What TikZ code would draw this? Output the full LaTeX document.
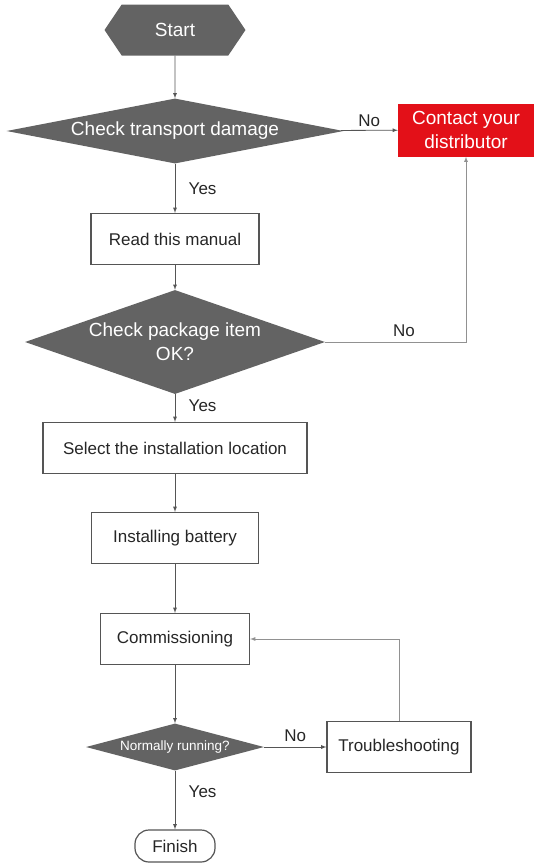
\documentclass[tikz,border=0pt]{standalone}
\usepackage{fontspec}
\setmainfont{Liberation Sans}
\usetikzlibrary{shapes.geometric,shapes.symbols}

\definecolor{flowgray}{RGB}{99,99,99}
\definecolor{flowred}{RGB}{227,16,24}
\definecolor{linegray}{RGB}{85,85,85}
\definecolor{loopgray}{RGB}{145,145,145}

\begin{document}
\begin{tikzpicture}[>=latex, x=1pt, y=-1pt,
    every node/.style={font=\fontsize{17}{21}\selectfont, text=black!85},
    decision/.style={shape=diamond, fill=flowgray, inner sep=0pt, text=white,
        align=center, font=\fontsize{19}{24}\selectfont},
    process/.style={draw=linegray, line width=1.2pt, minimum height=51pt},
    flow/.style={draw=linegray, line width=0.8pt},
    loop/.style={draw=loopgray, line width=0.8pt}
]
                    \useasboundingbox (0,0) rectangle (537,863);

                    % Start and first check
                    \node[shape=signal, signal to=west and east, signal pointer angle=112,
                          fill=flowgray, text=white, inner sep=0pt,
                          minimum width=141pt, minimum height=51pt,
                          font=\fontsize{19}{24}\selectfont] (Start) at (175,30) {Start};
                    \node[decision, minimum width=337pt, minimum height=65pt, aspect=5.2]
                        (Transport) at (175,131) {Check transport damage};
                    \node[fill=flowred, text=white, align=center, inner sep=0pt,
                          minimum width=136pt, minimum height=53pt,
                          font=\fontsize{19}{24}\selectfont] (Contact) at (466,130) {Contact your\\distributor};

                    % Main steps
                    \node[process, minimum width=168pt] (Manual) at (175,239) {Read this manual};
                    \node[decision, minimum width=300pt, minimum height=104pt, aspect=2.9]
                        (Package) at (175,342) {Check package item\\OK?};
                    \node[process, minimum width=264pt] (Location) at (175,448) {Select the installation location};
                    \node[process, minimum width=167pt] (Battery) at (175,538) {Installing battery};
                    \node[process, minimum width=149pt] (Commissioning) at (175,639) {Commissioning};
                    \node[decision, minimum width=178pt, minimum height=47pt, aspect=3.8,
                          font=\fontsize{13.5}{16}\selectfont] (Running) at (175,747) {Normally running?};
                    \node[process, minimum width=144pt] (Trouble) at (399,747) {Troubleshooting};
                    \node[draw=linegray, line width=1.2pt, rounded corners=14pt,
                          minimum width=80pt, minimum height=32pt] (Finish) at (175,846) {Finish};

                    % Connections
                    \draw[->, flow] (Start) -- (Transport);
                    \draw[->, flow] (Transport) -- node[above] {No} (Contact);
                    \draw[->, flow] (Transport) -- node[right=10pt] {Yes} (Manual);
                    \draw[->, flow] (Manual) -- (Package);
                    \draw[->, loop] (Package.east) -| node[pos=0.28, above=2pt] {No} (Contact.south);
                    \draw[->, flow] (Package) -- node[right=10pt, pos=0.4] {Yes} (Location);
                    \draw[->, flow] (Location) -- (Battery);
                    \draw[->, flow] (Battery) -- (Commissioning);
                    \draw[->, flow] (Commissioning) -- (Running);
                    \draw[->, flow] (Running) -- node[above=2pt] {No} (Trouble);
                    \draw[->, loop] (Trouble.north) |- (Commissioning.east);
                    \draw[->, flow] (Running) -- node[right=10pt, pos=0.35] {Yes} (Finish);
                \end{tikzpicture}
\end{document}
